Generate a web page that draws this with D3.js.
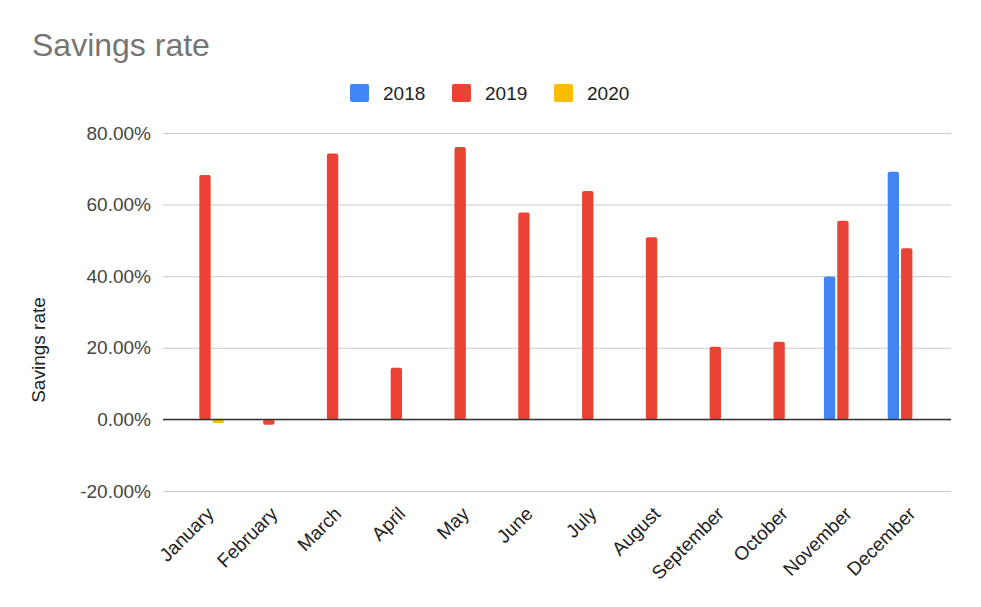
<!DOCTYPE html>
<html>
<head>
<meta charset="utf-8">
<script src="https://cdn.jsdelivr.net/npm/d3@7"></script>
<style>
  body { margin: 0; background: #fff; }
  text { font-family: Arial, "Liberation Sans", sans-serif; }
</style>
</head>
<body>
<script>
const months = ["January", "February", "March", "April", "May", "June", "July", "August", "September", "October", "November", "December"]
const seriesNames = ["2018", "2019", "2020"]
const values2018 = [null, null, null, null, null, null, null, null, null, null, 0.399, 0.692]
const values2019 = [0.683, -0.015, 0.743, 0.144, 0.761, 0.578, 0.638, 0.509, 0.203, 0.217, 0.555, 0.478]
const values2020 = [-0.01, null, null, null, null, null, null, null, null, null, null, null]
const yTicks = [-0.2, 0, 0.2, 0.4, 0.6, 0.8]
const colors = ["#4285f4", "#ea4335", "#fbbc04"]

let w = 981
let h = 607
let left = 163, right = 951

let svg = d3.select("body")
  .append("svg")
  .attr("width", w)
  .attr("height", h)

// title
svg.append("text")
  .attr("x", 32)
  .attr("y", 56)
  .attr("font-size", 32)
  .attr("fill", "#757575")
  .text("Savings rate")

// legend
let legendX = [350, 452, 554]
seriesNames.forEach((name, i) => {
  svg.append("rect")
    .attr("x", legendX[i])
    .attr("y", 84)
    .attr("width", 19)
    .attr("height", 18)
    .attr("rx", 2)
    .attr("fill", colors[i])
  svg.append("text")
    .attr("x", legendX[i] + 33)
    .attr("y", 100)
    .attr("font-size", 19)
    .attr("fill", "#222")
    .text(name)
})

// scales
let y = d3.scaleLinear().domain([-0.2, 0.8]).range([491, 133])
let x = d3.scaleBand().domain(months).range([173.1, 938.6])
let sub = d3.scaleBand().domain(seriesNames).range([-19, 19]).paddingInner(0.15)

// y axis + gridlines
let pct = d3.format(".2%")
let yAxis = d3.axisLeft(y).tickValues(yTicks).tickFormat(d => pct(d).replace("\u2212", "-"))
  .tickSize(-(right - left)).tickPadding(12)
let gy = svg.append("g")
  .attr("transform", "translate(" + left + ",0)")
  .call(yAxis)
gy.select(".domain").remove()
gy.selectAll(".tick line").attr("stroke", "#cccccc").attr("stroke-width", 1)
gy.selectAll(".tick text")
  .attr("font-size", 19)
  .attr("fill", "#444")
  .attr("font-family", "Arial, 'Liberation Sans', sans-serif")

// y axis title
svg.append("text")
  .attr("transform", "translate(45,350) rotate(-90)")
  .attr("text-anchor", "middle")
  .attr("font-size", 19)
  .attr("fill", "#222")
  .text("Savings rate")

// bars
let rows = []
let allSeries = [values2018, values2019, values2020]
allSeries.forEach((vals, s) => {
  vals.forEach((v, m) => {
    if (v !== null) rows.push({ month: months[m], series: seriesNames[s], value: v, color: colors[s] })
  })
})

svg.selectAll(".bar")
  .data(rows)
  .enter()
  .append("rect")
  .attr("class", "bar")
  .attr("x", d => x(d.month) + x.bandwidth() / 2 + sub(d.series))
  .attr("y", d => Math.min(y(d.value), y(0)))
  .attr("width", sub.bandwidth())
  .attr("height", d => Math.abs(y(d.value) - y(0)))
  .attr("rx", 2)
  .attr("fill", d => d.color)

// zero line
svg.append("line")
  .attr("x1", left)
  .attr("x2", right)
  .attr("y1", y(0))
  .attr("y2", y(0))
  .attr("stroke", "#333")
  .attr("stroke-width", 1.5)

// x labels
svg.selectAll(".xlabel")
  .data(months)
  .enter()
  .append("text")
  .attr("class", "xlabel")
  .attr("transform", d => "translate(" + (x(d) + x.bandwidth() / 2 + 10) + ",515) rotate(-45)")
  .attr("text-anchor", "end")
  .attr("font-size", 19)
  .attr("fill", "#222")
  .text(d => d)
</script>
</body>
</html>
